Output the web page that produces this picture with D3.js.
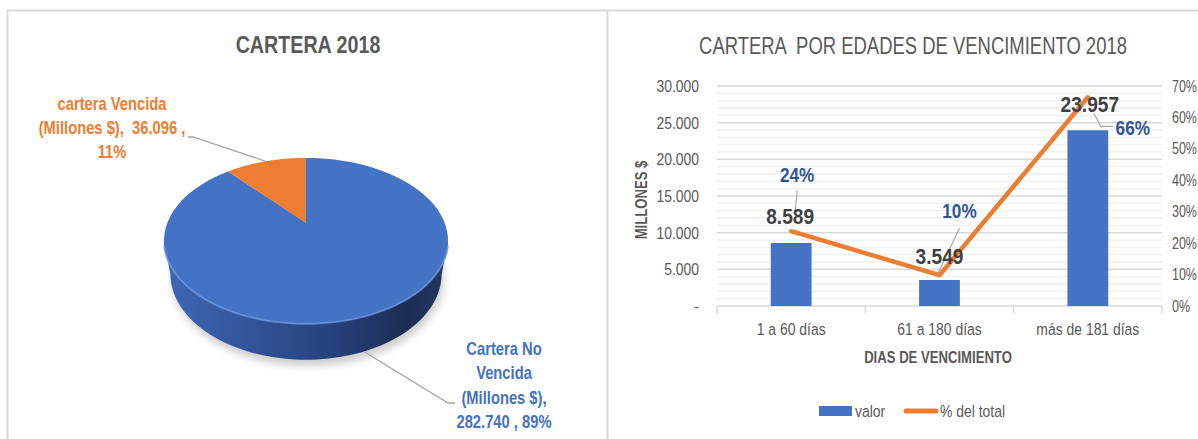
<!DOCTYPE html>
<html>
<head>
<meta charset="utf-8">
<script src="https://cdn.jsdelivr.net/npm/d3@7"></script>
<style>
  body { margin: 0; background: #fff; }
  svg { display: block; }
  svg text { white-space: pre; }
</style>
</head>
<body>
<svg id="chart" width="1198" height="439"></svg>
<script>
// ---- data ----
const pieLabels = ["Cartera No Vencida (Millones $)", "cartera Vencida (Millones $)"];
const pieValues = [282740, 36096];
const piePercents = [0.89, 0.11];

const categories = ["1 a 60 días", "61 a 180 días", "más de 181 días"];
const valores = [8589, 3549, 23957];
const pctTotal = [0.238, 0.098, 0.664];
const leftTicks = [0, 5000, 10000, 15000, 20000, 25000, 30000];
const rightTicks = [0, 0.1, 0.2, 0.3, 0.4, 0.5, 0.6, 0.7];
const seriesNames = ["valor", "% del total"];

// no narrow font installed: squeeze Liberation Sans like Arial Narrow
const FONT = "'Liberation Sans', Arial, sans-serif";
const SQUEEZE = 0.82;
const BLUE = "#4472C4", ORANGE = "#ED7D31", GRAY = "#595959";

const es = d3.formatLocale({ decimal: ",", thousands: ".", grouping: [3], currency: ["$", ""] });
const fmtNum = es.format(",.0f");
const fmtPct = d3.format(".0%");

const svg = d3.select("#chart").style("font-family", FONT);

// horizontal squeeze around the text's own x anchor
function narrow(sel, k = SQUEEZE) {
  sel.each(function () {
    const t = d3.select(this);
    const x0 = +t.attr("x") || 0;
    const prev = t.attr("transform") || "";
    t.attr("transform", `${prev} translate(${x0 * (1 - k)},0) scale(${k},1)`);
  });
  return sel;
}

// panel borders
svg.append("path")
  .attr("d", "M7.5,439 V10.5 H1198 M607.5,10.5 V439")
  .attr("fill", "none").attr("stroke", "#d9d9d9").attr("stroke-width", 2);

// ================= LEFT: 3D pie (perspective) =================
const pieG = svg.append("g");
pieG.append("text")
  .attr("x", 308).attr("y", 53).attr("text-anchor", "middle")
  .attr("font-size", 24).attr("font-weight", "bold").attr("fill", GRAY)
  .text("CARTERA 2018")
  .call(narrow);

// camera: tilt t, distance D, focal k; disk thickness h
const cx = 306, cy = 223, k = 530, D = 3.82, sT = 0.57, cT = 0.82, h = 0.303;
function proj(a, lower = false) {
  const u = Math.sin(a), v = Math.cos(a), yw = lower ? -h : 0;
  const yc = yw * cT + v * sT, zc = D + v * cT - yw * sT;
  return [cx + k * u / zc, cy - k * yc / zc];
}
const sample = (a0, a1, n = 80) => d3.range(n + 1).map(i => a0 + (a1 - a0) * i / n);

const arcs = d3.pie().sort(null).value(d => d)(pieValues);
const colors = [BLUE, ORANGE];
const sideA0 = Math.PI / 2 + Math.asin(cT / D), sideA1 = 2 * Math.PI - sideA0;

const defs = svg.append("defs");
const grad = defs.append("linearGradient").attr("id", "side")
  .attr("gradientUnits", "userSpaceOnUse")
  .attr("x1", proj(sideA1)[0]).attr("x2", proj(sideA0)[0]).attr("y1", 0).attr("y2", 0);
[[0, "#3f68b4"], [0.3, "#32559a"], [0.6, "#26417a"], [0.86, "#1b2d53"], [1, "#243a64"]]
  .forEach(([o, c]) => grad.append("stop").attr("offset", o).attr("stop-color", c));
defs.append("filter").attr("id", "blur").attr("x", "-20%").attr("y", "-30%")
  .attr("width", "140%").attr("height", "160%")
  .append("feGaussianBlur").attr("stdDeviation", 4);

const poly = d3.line().curve(d3.curveLinearClosed);

// shadow under the disk
pieG.append("path")
  .attr("d", poly(sample(0, 2 * Math.PI, 90).map(a => proj(a, true)).map(([px, py]) => [px + 2, py + 6])))
  .attr("fill", "#000").attr("opacity", 0.2).attr("filter", "url(#blur)");

// side walls (front part only)
function sidePath(d) {
  const a0 = Math.max(d.startAngle, sideA0), a1 = Math.min(d.endAngle, sideA1);
  if (a1 <= a0) return null;
  const as = sample(a0, a1);
  return poly(as.map(a => proj(a)).concat(as.slice().reverse().map(a => proj(a, true))));
}
pieG.selectAll(".side").data(arcs).join("path")
  .attr("class", "side")
  .attr("d", sidePath)
  .attr("fill", (d, i) => i === 0 ? "url(#side)" : d3.color(colors[i]).darker(1));

// top faces
pieG.selectAll(".top").data(arcs).join("path")
  .attr("class", "top")
  .attr("d", d => poly([[cx, cy]].concat(sample(d.startAngle, d.endAngle).map(a => proj(a)))))
  .attr("fill", (d, i) => colors[i]);

// rim highlight
pieG.append("path")
  .attr("d", d3.line()(sample(sideA0 + 0.05, sideA1 - 0.05).map(a => proj(a))))
  .attr("fill", "none").attr("stroke", "#6b96e0").attr("stroke-width", 2).attr("opacity", 0.75);

// pie labels
const leader = "#a6a6a6";
const aV = (arcs[1].startAngle + arcs[1].endAngle) / 2;
pieG.append("path")
  .attr("d", `M188,137H193L${proj(aV)}`)
  .attr("fill", "none").attr("stroke", leader).attr("stroke-width", 1.3);
pieG.append("path")
  .attr("d", `M${proj(Math.PI - 0.36, true)}L448,403H455`)
  .attr("fill", "none").attr("stroke", leader).attr("stroke-width", 1.3);

const vLines = ["cartera Vencida", `(Millones $),  ${fmtNum(pieValues[1])} ,`, fmtPct(piePercents[1])];
pieG.append("g").selectAll("text").data(vLines).join("text")
  .attr("text-anchor", "middle").attr("font-size", 18).attr("font-weight", "bold").attr("fill", ORANGE)
  .attr("x", 112).attr("y", (d, i) => 110 + i * 24).text(d => d)
  .call(narrow);

const nLines = ["Cartera No", "Vencida", "(Millones $),", `${fmtNum(pieValues[0])} , ${fmtPct(piePercents[0])}`];
pieG.append("g").selectAll("text").data(nLines).join("text")
  .attr("text-anchor", "middle").attr("font-size", 18).attr("font-weight", "bold").attr("fill", BLUE)
  .attr("x", 504).attr("y", (d, i) => 355 + i * 24.5).text(d => d)
  .call(narrow);

// ================= RIGHT: bars + line =================
const R = { left: 717, right: 1162, top: 86, bottom: 306 };
const g = svg.append("g");

const title2 = g.append("text")
  .attr("x", 913).attr("y", 54).attr("text-anchor", "middle")
  .attr("font-size", 23).attr("fill", GRAY)
  .text("CARTERA  POR EDADES DE VENCIMIENTO 2018");
title2.call(narrow, 428 / title2.node().getComputedTextLength());

const x = d3.scaleBand().domain(categories).range([R.left, R.right]).padding(0);
const y = d3.scaleLinear().domain([0, 30000]).range([R.bottom, R.top]);
const y2 = d3.scaleLinear().domain([0, 0.7]).range([R.bottom, R.top]);

// minor gridlines
g.append("g").selectAll("line")
  .data(d3.range(1000, 30000, 1000).filter(v => v % 5000 !== 0))
  .join("line")
  .attr("x1", R.left).attr("x2", R.right)
  .attr("y1", d => y(d)).attr("y2", d => y(d))
  .attr("stroke", "#efefef").attr("stroke-width", 1.3);
// major gridlines
g.append("g").selectAll("line")
  .data(leftTicks.slice(1))
  .join("line")
  .attr("x1", R.left).attr("x2", R.right)
  .attr("y1", d => y(d)).attr("y2", d => y(d))
  .attr("stroke", "#d9d9d9").attr("stroke-width", 1.5);

// left axis labels
const yAxis = g.append("g").attr("transform", `translate(${R.left},0)`)
  .call(d3.axisLeft(y).tickValues(leftTicks).tickSize(0).tickPadding(18)
    .tickFormat(d => d === 0 ? "-" : fmtNum(d)));
yAxis.select(".domain").remove();
yAxis.selectAll("text").attr("font-size", 17).attr("fill", GRAY).attr("font-family", FONT).call(narrow);

// right axis labels
const y2Axis = g.append("g").attr("transform", `translate(${R.right},0)`)
  .call(d3.axisRight(y2).tickValues(rightTicks).tickSize(0).tickPadding(10).tickFormat(fmtPct));
y2Axis.select(".domain").remove();
y2Axis.selectAll("text").attr("font-size", 16).attr("fill", GRAY).attr("font-family", FONT).call(narrow, 0.78);

// x axis
const xAxis = g.append("g").attr("transform", `translate(0,${R.bottom})`)
  .call(d3.axisBottom(x).tickSize(0).tickPadding(17));
xAxis.select(".domain").remove();
xAxis.selectAll("text").attr("font-size", 17).attr("fill", GRAY).attr("font-family", FONT).call(narrow);
g.append("line")
  .attr("x1", R.left).attr("x2", R.right).attr("y1", R.bottom).attr("y2", R.bottom)
  .attr("stroke", "#d9d9d9").attr("stroke-width", 1.5);
g.append("g").selectAll("line")
  .data(categories.map(c => x(c)).concat([R.right]))
  .join("line")
  .attr("x1", d => d).attr("x2", d => d)
  .attr("y1", R.bottom).attr("y2", R.bottom + 7)
  .attr("stroke", "#d9d9d9").attr("stroke-width", 1.5);

// axis titles
g.append("text")
  .attr("transform", "translate(647,200) rotate(-90)")
  .attr("text-anchor", "middle").attr("font-size", 16).attr("font-weight", "bold")
  .attr("fill", GRAY).text("MILLONES $").call(narrow);
g.append("text")
  .attr("x", 938).attr("y", 363).attr("text-anchor", "middle")
  .attr("font-size", 16).attr("font-weight", "bold").attr("fill", GRAY)
  .text("DIAS DE VENCIMIENTO").call(narrow);

// bars
const barW = x.bandwidth() * 0.275;
g.append("g").selectAll("rect")
  .data(valores)
  .join("rect")
  .attr("x", (d, i) => x(categories[i]) + x.bandwidth() / 2 - barW / 2)
  .attr("width", barW)
  .attr("y", d => y(d))
  .attr("height", d => y(0) - y(d))
  .attr("fill", BLUE);

// line
const line = d3.line()
  .x((d, i) => x(categories[i]) + x.bandwidth() / 2)
  .y(d => y2(d));
g.append("path")
  .datum(pctTotal)
  .attr("d", line)
  .attr("fill", "none").attr("stroke", ORANGE).attr("stroke-width", 4.5)
  .attr("stroke-linejoin", "round").attr("stroke-linecap", "round");

// data labels (manually placed in the original, offsets from the line points)
const cxOf = i => x(categories[i]) + x.bandwidth() / 2;
const valOffset = [[-1, -7], [0, -11], [2, 15]];
const pctOffset = [[6, -49], [20, -57], [45, 38]];
const pctLeaders = [
  [[6, -41], [4, -19]],
  [[20, -47], [-2, -1]],
  [[6, 16], [13, 29], [25, 29]]
];
g.append("g").selectAll("path")
  .data(pctLeaders)
  .join("path")
  .attr("d", (pts, i) => d3.line()(pts.map(([dx, dy]) => [cxOf(i) + dx, y2(pctTotal[i]) + dy])))
  .attr("fill", "none").attr("stroke", "#a6a6a6").attr("stroke-width", 1.2);

g.append("g").selectAll("text")
  .data(valores)
  .join("text")
  .attr("x", (d, i) => cxOf(i) + valOffset[i][0])
  .attr("y", (d, i) => y2(pctTotal[i]) + valOffset[i][1])
  .attr("text-anchor", "middle").attr("font-size", 22).attr("font-weight", "bold")
  .attr("fill", "#404040")
  .text(d => fmtNum(d)).call(narrow, 0.87);

g.append("g").selectAll("text")
  .data(pctTotal)
  .join("text")
  .attr("x", (d, i) => cxOf(i) + pctOffset[i][0])
  .attr("y", (d, i) => y2(d) + pctOffset[i][1])
  .attr("text-anchor", "middle").attr("font-size", 20).attr("font-weight", "bold")
  .attr("fill", "#2F5597")
  .text(d => fmtPct(d)).call(narrow, 0.86);

// legend
const lg = g.append("g").attr("font-size", 17).attr("fill", GRAY);
lg.append("rect").attr("x", 819).attr("y", 406).attr("width", 33).attr("height", 10).attr("fill", BLUE);
lg.append("text").attr("x", 855).attr("y", 417).text(seriesNames[0]).call(narrow);
lg.append("line").attr("x1", 906).attr("x2", 936).attr("y1", 411).attr("y2", 411)
  .attr("stroke", ORANGE).attr("stroke-width", 5).attr("stroke-linecap", "round");
lg.append("text").attr("x", 940).attr("y", 417).text(seriesNames[1]).call(narrow);
</script>
</body>
</html>
